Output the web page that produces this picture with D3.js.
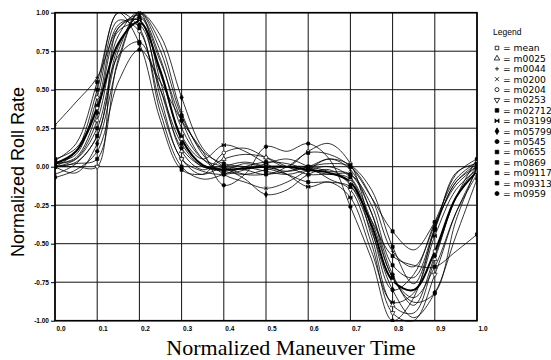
<!DOCTYPE html>
<html lang="en">
<head>
<meta charset="UTF-8">
<title>Normalized Roll Rate vs Normalized Maneuver Time</title>
<script src="https://d3js.org/d3.v7.min.js"></script>
<style>
  body { margin: 0; background: #fff; }
</style>
</head>
<body>
<svg id="chart" width="551" height="360"></svg>
<script>
// sample times shared by every maneuver (normalized)
const times = [0, 0.05, 0.1, 0.15, 0.2, 0.25, 0.3, 0.35, 0.4, 0.45, 0.5,
               0.55, 0.6, 0.65, 0.7, 0.75, 0.8, 0.85, 0.9, 0.95, 1.0];

const mean   = [0.02, 0.10, 0.38, 0.80, 0.94, 0.62, 0.18, 0.01, -0.02, -0.01, 0.00, 0.00, -0.02, -0.04, -0.10, -0.38, -0.74, -0.80, -0.55, -0.20, -0.03];
const m0025  = [0.00, 0.05, 0.30, 0.85, 1.00, 0.55, 0.10, -0.02, 0.05, 0.08, 0.06, 0.00, -0.05, -0.05, -0.08, -0.45, -0.90, -0.95, -0.60, -0.20, 0.00];
const m0044  = [0.27, 0.42, 0.58, 0.90, 0.98, 0.70, 0.25, 0.05, 0.00, -0.05, -0.05, -0.03, 0.00, 0.02, 0.00, -0.20, -0.55, -0.65, -0.38, -0.10, 0.02];
const m0200  = [-0.05, 0.02, 0.20, 0.75, 1.00, 0.80, 0.35, 0.08, -0.05, -0.10, -0.14, -0.10, -0.02, 0.05, -0.02, -0.30, -0.72, -0.85, -0.65, -0.30, -0.05];
const m0204  = [0.03, 0.08, 0.45, 0.95, 0.88, 0.40, 0.05, -0.05, 0.09, 0.12, 0.06, 0.00, 0.10, 0.15, 0.02, -0.40, -0.80, -0.70, -0.36, -0.08, 0.03];
const m0253  = [0.00, 0.00, 0.00, 0.90, 0.95, 0.45, 0.05, -0.03, -0.05, -0.02, 0.02, 0.05, 0.00, -0.08, -0.15, -0.50, -0.95, -1.00, -0.70, -0.30, -0.02];
const m02712 = [0.00, 0.10, 0.50, 1.00, 0.90, 0.35, 0.00, -0.08, -0.05, 0.00, 0.03, 0.02, -0.02, -0.05, -0.05, -0.25, -0.64, -0.72, -0.40, -0.10, 0.00];
const m03199 = [0.05, 0.12, 0.40, 0.92, 0.95, 0.60, 0.20, 0.05, 0.14, 0.10, 0.02, -0.05, -0.13, -0.10, -0.20, -0.55, -0.88, -0.82, -0.45, -0.15, -0.02];
const m05799 = [0.00, -0.04, 0.15, 0.68, 1.00, 0.85, 0.45, 0.12, 0.00, -0.08, -0.18, -0.15, -0.05, -0.02, -0.12, -0.42, -0.80, -0.98, -0.82, -0.45, -0.08];
const m0545  = [-0.07, -0.02, 0.10, 0.55, 0.76, 0.55, 0.30, 0.10, -0.12, -0.05, 0.13, 0.10, 0.15, 0.05, -0.26, -0.60, -1.00, -0.85, -0.40, -0.05, 0.05];
const m0655  = [0.02, 0.05, 0.25, 0.72, 0.81, 0.50, 0.15, 0.00, 0.00, -0.02, -0.05, 0.00, 0.09, 0.08, 0.00, -0.20, -0.42, -0.54, -0.36, -0.12, 0.00];
const m0869  = [0.00, 0.03, 0.20, 0.78, 0.97, 0.68, 0.30, 0.05, -0.02, 0.02, -0.01, -0.05, -0.10, -0.10, -0.13, -0.35, -0.58, -0.64, -0.65, -0.55, -0.44];
const m09117 = [0.04, 0.15, 0.55, 1.00, 0.80, 0.30, -0.02, -0.05, 0.00, 0.03, 0.00, -0.03, 0.00, 0.05, 0.01, -0.15, -0.52, -0.76, -0.41, -0.04, 0.02];
const m09313 = [0.00, 0.02, 0.05, 0.70, 1.00, 0.75, 0.33, 0.10, 0.02, 0.00, -0.03, -0.05, -0.02, 0.00, -0.07, -0.35, -0.72, -0.88, -0.82, -0.35, 0.00];
const m0959  = [0.02, 0.06, 0.35, 0.88, 0.92, 0.50, 0.12, 0.00, -0.03, -0.05, -0.02, 0.00, 0.00, -0.03, -0.05, -0.30, -0.70, -0.90, -0.58, -0.20, 0.05];

const seriesNames = ["mean", "m0025", "m0044", "m0200", "m0204", "m0253", "m02712", "m03199",
                     "m05799", "m0545", "m0655", "m0869", "m09117", "m09313", "m0959"];
const seriesValues = [mean, m0025, m0044, m0200, m0204, m0253, m02712, m03199,
                      m05799, m0545, m0655, m0869, m09117, m09313, m0959];

const xTicks = [0, 0.1, 0.2, 0.3, 0.4, 0.5, 0.6, 0.7, 0.8, 0.9, 1.0];
const yTicks = [1.0, 0.75, 0.5, 0.25, 0, -0.25, -0.5, -0.75, -1.0];

// marker style per series: symbol, filled?, rotation
const markers = [
    {sym: "square", fill: false},
    {sym: "triangle", fill: false},
    {sym: "plus", fill: false},
    {sym: "times", fill: false},
    {sym: "circle", fill: false},
    {sym: "triangle", fill: false, rot: 180},
    {sym: "square", fill: true},
    {sym: "bowtie", fill: true},
    {sym: "diamond", fill: true},
    {sym: "circle", fill: true},
    {sym: "square", fill: true},
    {sym: "square", fill: true},
    {sym: "square", fill: true},
    {sym: "square", fill: true},
    {sym: "circle", fill: true}
];

const svg = d3.select("#chart");
const plotL = 55, plotR = 477, plotT = 12.7, plotB = 320.7;

const x = d3.scaleLinear().domain([0, 1]).range([plotL, plotR]);
const y = d3.scaleLinear().domain([-1, 1]).range([plotB, plotT]);

function markerPath(m, size) {
    const s = size / 2;
    if (m.sym === "plus") return `M${-s},0H${s}M0,${-s}V${s}`;
    if (m.sym === "times") return `M${-s},${-s}L${s},${s}M${-s},${s}L${s},${-s}`;
    if (m.sym === "bowtie") return `M${-s},${-s}L${s},${s}L${s},${-s}L${-s},${s}Z`;
    const types = {square: d3.symbolSquare, triangle: d3.symbolTriangle,
                   circle: d3.symbolCircle, diamond: d3.symbolDiamond};
    return d3.symbol().type(types[m.sym]).size(size * size * 0.8)();
}

// ========== GRID ==========
svg.append("g")
    .selectAll("line")
    .data(xTicks)
    .join("line")
    .attr("x1", d => x(d)).attr("x2", d => x(d))
    .attr("y1", plotT).attr("y2", plotB)
    .attr("stroke", "#111").attr("stroke-width", 1);

svg.append("g")
    .selectAll("line")
    .data(yTicks)
    .join("line")
    .attr("x1", plotL).attr("x2", plotR)
    .attr("y1", d => y(d)).attr("y2", d => y(d))
    .attr("stroke", "#111").attr("stroke-width", 1);

// ========== AXES ==========
const yAxis = svg.append("g")
    .attr("transform", `translate(${plotL},0)`)
    .call(d3.axisLeft(y).tickValues(yTicks).tickFormat(d => d3.format(".2f")(d).replace("−", "-")).tickSize(4).tickPadding(2));
yAxis.select(".domain").remove();
yAxis.selectAll("text")
    .style("font-family", "Liberation Sans, Arial, sans-serif")
    .style("font-size", "6.5px")
    .style("font-weight", "bold");

const xAxis = svg.append("g")
    .attr("transform", `translate(0,${plotB})`)
    .call(d3.axisBottom(x).tickValues(xTicks).tickFormat(d3.format(".1f")).tickSize(0).tickPadding(6));
xAxis.select(".domain").remove();
xAxis.selectAll("text")
    .attr("text-anchor", "start")
    .attr("dx", 1)
    .style("font-family", "Liberation Sans, Arial, sans-serif")
    .style("font-size", "6.5px")
    .style("font-weight", "bold");

svg.append("rect")
    .attr("x", plotL).attr("y", plotT)
    .attr("width", plotR - plotL).attr("height", plotB - plotT)
    .attr("fill", "none").attr("stroke", "#000").attr("stroke-width", 1.6);

// ========== CURVES ==========
svg.append("clipPath").attr("id", "plotclip")
    .append("rect")
    .attr("x", plotL).attr("y", plotT - 1)
    .attr("width", plotR - plotL).attr("height", plotB - plotT + 2);

const line = d3.line()
    .x((d, i) => x(times[i]))
    .y(d => y(d))
    .curve(d3.curveCatmullRom.alpha(0.5));

const plot = svg.append("g").attr("clip-path", "url(#plotclip)");

plot.selectAll("path.curve")
    .data(seriesValues)
    .join("path")
    .attr("class", "curve")
    .attr("d", d => line(d))
    .attr("fill", "none")
    .attr("stroke", "#000")
    .attr("stroke-width", (d, i) => i === 0 ? 2 : 0.8);

// markers at every 0.1 of normalized time
seriesValues.forEach((vals, si) => {
    const m = markers[si];
    plot.append("g")
        .selectAll("path")
        .data(vals.map((v, i) => ({t: times[i], v: v})).filter((d, i) => i % 2 === 0))
        .join("path")
        .attr("transform", d => `translate(${x(d.t)},${y(d.v)}) rotate(${m.rot || 0})`)
        .attr("d", markerPath(m, 3.5))
        .attr("fill", m.fill ? "#000" : "#fff")
        .attr("stroke", "#000")
        .attr("stroke-width", 0.7);
});

// ========== TITLES ==========
svg.append("text")
    .attr("x", 291).attr("y", 355)
    .attr("text-anchor", "middle")
    .style("font-family", "Liberation Serif, Times New Roman, serif")
    .style("font-size", "22px")
    .text("Normalized Maneuver Time");

svg.append("text")
    .attr("transform", "translate(24,172) rotate(-90)")
    .attr("text-anchor", "middle")
    .style("font-family", "Liberation Sans, Arial, sans-serif")
    .style("font-size", "18px")
    .text("Normalized Roll Rate");

// ========== LEGEND ==========
svg.append("text")
    .attr("x", 493).attr("y", 35)
    .style("font-family", "Liberation Sans, Arial, sans-serif")
    .style("font-size", "8.5px")
    .text("Legend");

const legend = svg.append("g").attr("transform", "translate(497,48)");

const legendItem = legend.selectAll(".legend-item")
    .data(seriesNames)
    .join("g")
    .attr("class", "legend-item")
    .attr("transform", (d, i) => `translate(0,${i * 10.4})`);

legendItem.append("path")
    .attr("transform", (d, i) => `rotate(${markers[i].rot || 0})`)
    .attr("d", (d, i) => markerPath(markers[i], 4))
    .attr("fill", (d, i) => markers[i].fill ? "#000" : "#fff")
    .attr("stroke", "#000")
    .attr("stroke-width", 0.8);

legendItem.append("text")
    .attr("x", 6).attr("y", 3.3)
    .style("font-family", "DejaVu Sans, sans-serif")
    .style("font-size", "9.2px")
    .text(d => d === "mean" ? "=  mean" : "= " + d);
</script>
</body>
</html>
